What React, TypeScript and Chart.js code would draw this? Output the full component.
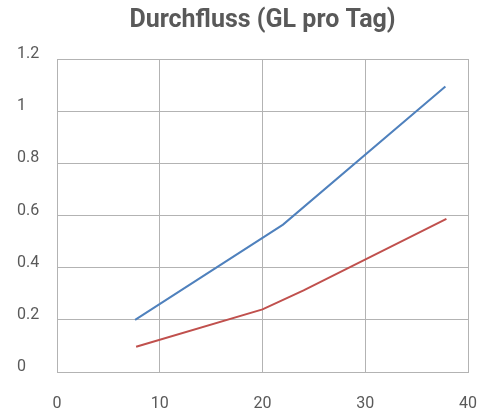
import React, { useEffect, useRef } from "react";
import { Chart, registerables } from "chart.js";

Chart.register(...registerables);

const title = "Durchfluss (GL pro Tag)";
const blueX = [7.6, 22, 37.8];
const blueY = [0.2, 0.565, 1.095];
const redX = [7.7, 20, 24, 37.9];
const redY = [0.097, 0.24, 0.313, 0.587];
const xTicks = [0, 10, 20, 30, 40];
const yTicks = [0, 0.2, 0.4, 0.6, 0.8, 1, 1.2];

const toPoints = (xs: number[], ys: number[]) => xs.map((x, i) => ({ x, y: ys[i] }));

export default function App() {
  const ref = useRef<HTMLCanvasElement | null>(null);
  useEffect(() => {
    if (!ref.current) return;
    const grid = "#b3b3b3";
    const text = "#595959";
    const chart = new Chart(ref.current, {
      type: "scatter",
      data: {
        datasets: [
          {
            data: toPoints(blueX, blueY),
            showLine: true,
            borderColor: "#4F81BD",
            borderWidth: 2,
            pointRadius: 0,
            tension: 0,
          },
          {
            data: toPoints(redX, redY),
            showLine: true,
            borderColor: "#C0504D",
            borderWidth: 2,
            pointRadius: 0,
            tension: 0,
          },
        ],
      },
      options: {
        animation: false,
        responsive: false,
        maintainAspectRatio: false,
        layout: { padding: { left: 17, right: 18, top: 0, bottom: 0 } },
        plugins: {
          legend: { display: false },
          tooltip: { enabled: false },
          title: {
            display: true,
            text: title,
            fullSize: false,
            color: text,
            font: { family: "Roboto", size: 25, weight: "bold" },
            padding: { top: 6, bottom: 23 },
          },
        },
        scales: {
          x: {
            type: "linear",
            min: 0,
            max: 40,
            afterBuildTicks: (s: any) => {
              s.ticks = xTicks.map((v) => ({ value: v }));
            },
            afterFit: (s: any) => {
              s.height = 42;
            },
            grid: { color: grid, lineWidth: 1, drawTicks: true, tickLength: 20, tickColor: "rgba(0,0,0,0)" },
            border: { color: grid, width: 1 },
            ticks: {
              color: text,
              padding: 2,
              font: { family: "Roboto", size: 16 },
            },
          },
          y: {
            type: "linear",
            min: 0,
            max: 1.2,
            afterBuildTicks: (s: any) => {
              s.ticks = yTicks.map((v) => ({ value: v }));
            },
            afterFit: (s: any) => {
              s.width = 40;
            },
            grid: { color: grid, lineWidth: 1, drawTicks: false },
            border: { color: grid, width: 1 },
            ticks: {
              color: text,
              crossAlign: "far",
              padding: 10,
              labelOffset: -5,
              font: { family: "Roboto", size: 16 },
              callback: (v: any) => String(Math.round(Number(v) * 10) / 10),
            },
          },
        },
      },
    });
    return () => chart.destroy();
  }, []);
  return (
    <div style={{ position: "fixed", left: 0, top: 0, width: 486, height: 414, background: "#fff" }}>
      <canvas ref={ref} width={486} height={414} style={{ width: 486, height: 414 }} />
    </div>
  );
}
